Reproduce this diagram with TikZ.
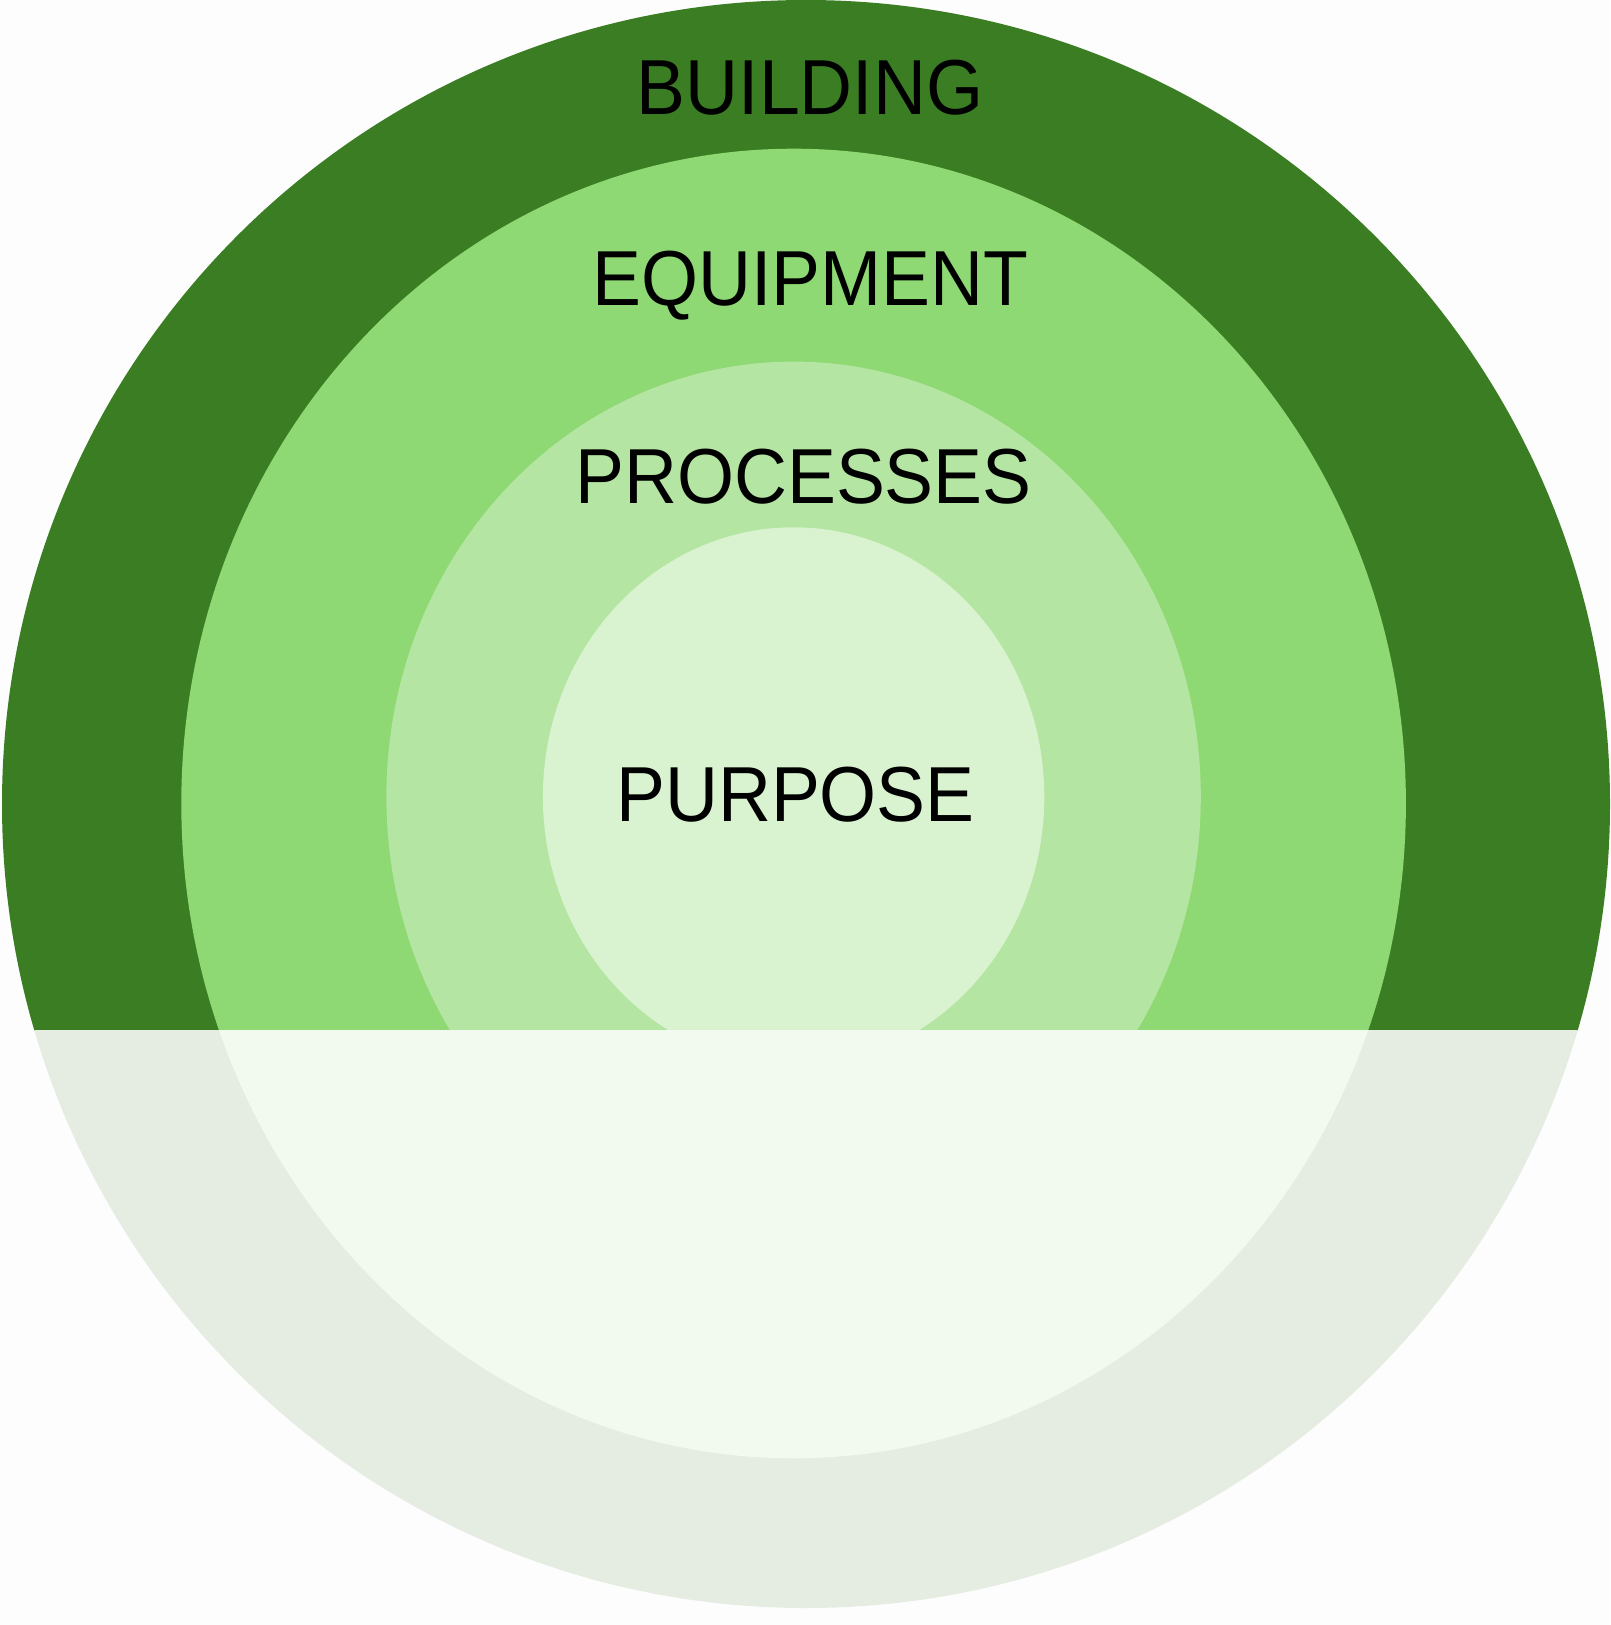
\documentclass[tikz,border=0pt]{standalone}
\usepackage{fontspec}
\setmainfont{Liberation Sans}[FakeStretch=0.94]
\definecolor{bgc}{HTML}{FDFDFD}
\definecolor{dkg}{HTML}{3B7D23}
\definecolor{mdg}{HTML}{8ED973}
\definecolor{ltg}{HTML}{B4E5A2}
\definecolor{xlg}{HTML}{D9F2D0}
\definecolor{lowa}{HTML}{E5EDE2}
\definecolor{lowb}{HTML}{F2F9EF}
\tikzset{lbl/.style={anchor=base,inner sep=0pt,text=black,font=\fontsize{78}{80}\selectfont}}
\begin{document}
\begin{tikzpicture}[x=1pt,y=-1pt]
\fill[bgc] (0,0) rectangle (1610,1625);
\useasboundingbox (0,0) rectangle (1610,1625);
\begin{scope}
\clip (0,0) rectangle (1610,1030);
\fill[dkg] (806,804) circle[radius=804];
\fill[mdg] (793.6,803.5) ellipse[x radius=612.3,y radius=654.8];
\fill[ltg] (793.6,796.7) ellipse[x radius=407.2,y radius=435.1];
\fill[xlg] (793.6,796.7) ellipse[x radius=250.7,y radius=269.4];
\end{scope}
\begin{scope}
\clip (0,1030) rectangle (1610,1625);
\fill[lowa] (806,804) circle[radius=804];
\fill[lowb] (793.6,803.5) ellipse[x radius=612.3,y radius=654.8];
\end{scope}
\node[lbl] (building) at (810,114) {BUILDING};
\node[lbl] (equipment) at (810.5,305) {EQUIPMENT};
\node[lbl] (processes) at (803.5,503) {PROCESSES};
\node[lbl] (purpose) at (795.5,821) {PURPOSE};
\end{tikzpicture}
\end{document}
